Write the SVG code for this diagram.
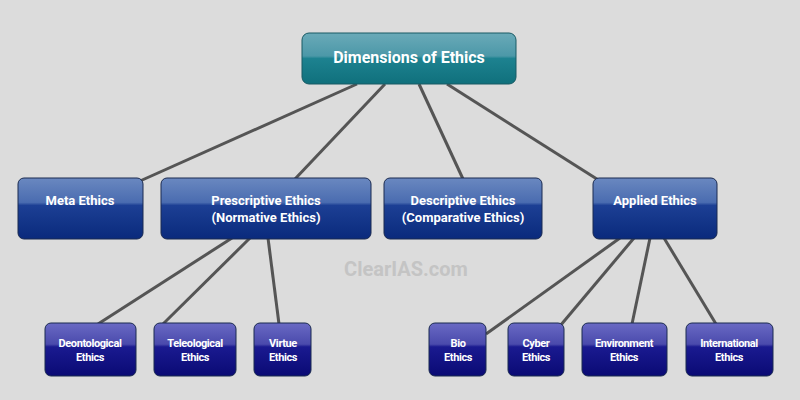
<svg xmlns="http://www.w3.org/2000/svg" width="800" height="400" viewBox="0 0 800 400">
<defs>
<linearGradient id="gT" x1="0" y1="0" x2="0" y2="1"><stop offset="0" stop-color="#6aaab8"/><stop offset="0.45" stop-color="#4c98a8"/><stop offset="0.5" stop-color="#1d8290"/><stop offset="1" stop-color="#10707c"/></linearGradient>
<linearGradient id="gB" x1="0" y1="0" x2="0" y2="1"><stop offset="0" stop-color="#6a88c0"/><stop offset="0.4" stop-color="#4a6cb0"/><stop offset="0.45" stop-color="#1c3f94"/><stop offset="1" stop-color="#0a2a7c"/></linearGradient>
<linearGradient id="gN" x1="0" y1="0" x2="0" y2="1"><stop offset="0" stop-color="#6a6ac4"/><stop offset="0.4" stop-color="#4a4aac"/><stop offset="0.45" stop-color="#1a1a90"/><stop offset="1" stop-color="#0a0a74"/></linearGradient>
</defs>
<style>
.t{fill:#fff;font-family:Roboto,"Liberation Sans",sans-serif;font-weight:bold;text-anchor:middle}
.s{font-size:13px}.x{font-size:11px;letter-spacing:-0.4px}
.b{stroke:#1a2a50;stroke-width:1}
</style>
<rect width="800" height="400" fill="#dcdcdc"/>
<g id="connectors" stroke="#555" stroke-width="3" fill="none">
<line x1="357" y1="84" x2="140" y2="181"/>
<line x1="385" y1="84" x2="295" y2="179"/>
<line x1="419" y1="84" x2="463" y2="179"/>
<line x1="447" y1="84" x2="600" y2="181"/>
<line x1="232" y1="238" x2="98" y2="324"/>
<line x1="250" y1="238" x2="163" y2="324"/>
<line x1="268" y1="238" x2="279" y2="324"/>
<line x1="620" y1="238" x2="486" y2="334"/>
<line x1="634" y1="238" x2="560" y2="326"/>
<line x1="650" y1="238" x2="632" y2="324"/>
<line x1="664" y1="238" x2="716" y2="324"/>
</g>
<text x="406" y="276" font-family="Roboto,'Liberation Sans',sans-serif" font-weight="bold" font-size="20" fill="#c4c4c4" text-anchor="middle">ClearIAS.com</text>
<g id="n-root"><rect x="302" y="33" width="214" height="51" rx="7" fill="url(#gT)" stroke="#185a64"/><text class="t" x="409" y="63" font-size="16">Dimensions of Ethics</text></g>
<g id="n-meta"><rect x="18" y="178" width="125" height="61" rx="6" fill="url(#gB)" class="b"/><text class="t s" x="80" y="205">Meta Ethics</text></g>
<g id="n-pres"><rect x="161" y="178" width="210" height="61" rx="6" fill="url(#gB)" class="b"/><text class="t s" x="266" y="205">Prescriptive Ethics</text><text class="t s" x="266" y="222">(Normative Ethics)</text></g>
<g id="n-desc"><rect x="384" y="178" width="158" height="61" rx="6" fill="url(#gB)" class="b"/><text class="t s" x="463" y="205">Descriptive Ethics</text><text class="t s" x="463" y="222">(Comparative Ethics)</text></g>
<g id="n-appl"><rect x="593" y="178" width="124" height="61" rx="6" fill="url(#gB)" class="b"/><text class="t s" x="655" y="205">Applied Ethics</text></g>
<g id="n-deon"><rect x="45" y="323" width="91" height="53" rx="6" fill="url(#gN)" class="b"/><text class="t x" x="90" y="347">Deontological</text><text class="t x" x="90" y="361">Ethics</text></g>
<g id="n-tele"><rect x="154" y="323" width="82" height="53" rx="6" fill="url(#gN)" class="b"/><text class="t x" x="195" y="347">Teleological</text><text class="t x" x="195" y="361">Ethics</text></g>
<g id="n-virt"><rect x="254" y="323" width="57" height="53" rx="6" fill="url(#gN)" class="b"/><text class="t x" x="283" y="347">Virtue</text><text class="t x" x="283" y="361">Ethics</text></g>
<g id="n-bio"><rect x="429" y="323" width="57" height="53" rx="6" fill="url(#gN)" class="b"/><text class="t x" x="458" y="347">Bio</text><text class="t x" x="458" y="361">Ethics</text></g>
<g id="n-cyb"><rect x="508" y="323" width="56" height="53" rx="6" fill="url(#gN)" class="b"/><text class="t x" x="536" y="347">Cyber</text><text class="t x" x="536" y="361">Ethics</text></g>
<g id="n-env"><rect x="582" y="323" width="85" height="53" rx="6" fill="url(#gN)" class="b"/><text class="t x" x="624" y="347">Environment</text><text class="t x" x="624" y="361">Ethics</text></g>
<g id="n-int"><rect x="686" y="323" width="87" height="53" rx="6" fill="url(#gN)" class="b"/><text class="t x" x="729" y="347">International</text><text class="t x" x="729" y="361">Ethics</text></g>
</svg>
